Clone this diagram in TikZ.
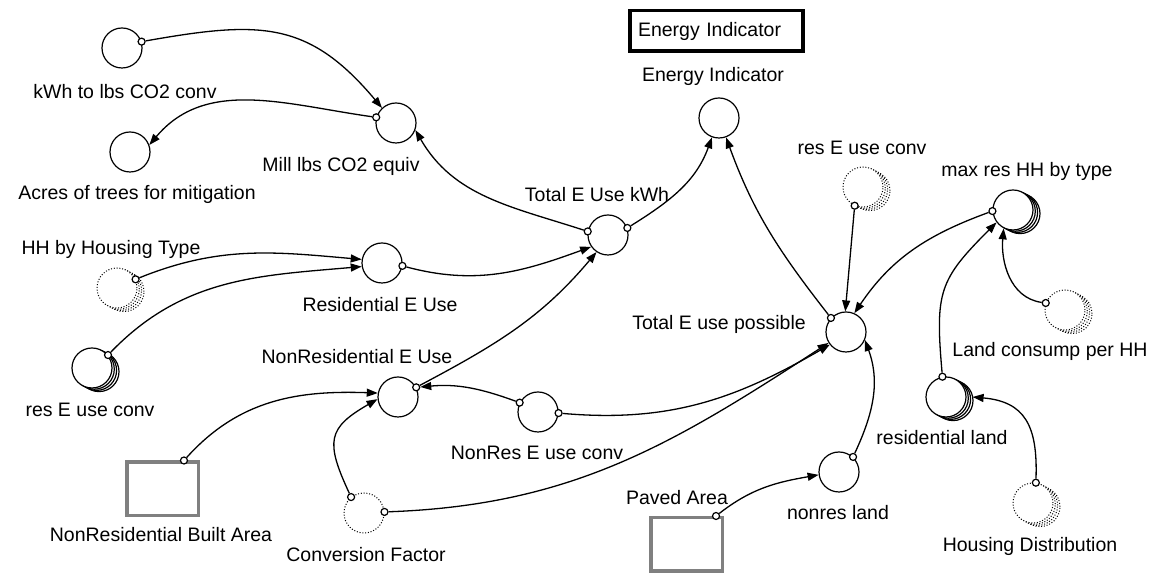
\documentclass[tikz,border=0pt]{standalone}
\usepackage{fontspec}
\setmainfont{Liberation Sans}
\usetikzlibrary{arrows.meta,shadows}

\tikzset{
  conv/.style={circle, draw, fill=white, line width=1.2pt, minimum size=40pt, inner sep=0pt},
  ghost/.style={conv, line width=1pt, dash pattern=on 1pt off 1.8pt},
  arr/.style={
    general shadow={shadow xshift=7pt, shadow yshift=-3.6pt, draw, fill=white, line width=1.2pt},
    general shadow={shadow xshift=4.6pt, shadow yshift=-2.4pt, draw, fill=white, line width=1.2pt},
    general shadow={shadow xshift=2.3pt, shadow yshift=-1.2pt, draw, fill=white, line width=1.2pt}},
  ghostarr/.style={
    general shadow={shadow xshift=7pt, shadow yshift=-3.6pt, draw, dash pattern=on 1pt off 1.8pt, fill=white, line width=1pt},
    general shadow={shadow xshift=4.6pt, shadow yshift=-2.4pt, draw, dash pattern=on 1pt off 1.8pt, fill=white, line width=1pt},
    general shadow={shadow xshift=2.3pt, shadow yshift=-1.2pt, draw, dash pattern=on 1pt off 1.8pt, fill=white, line width=1pt}},
  stock/.style={rectangle, draw=gray, fill=white, line width=3.5pt, minimum width=71.5pt, minimum height=53.5pt},
  tap/.style={circle, draw, fill=white, line width=1.2pt, minimum size=7pt, inner sep=0pt},
  lbl/.style={inner sep=0pt, text height=14pt, text depth=0pt, font=\fontsize{19.5pt}{23pt}\selectfont},
  indbox/.style={draw, line width=3.5pt, text width=157pt, align=left, inner xsep=8pt,
    minimum height=40.5pt, font=\fontsize{19.5pt}{23pt}\selectfont},
  link/.style={line width=1.3pt, -{Triangle[length=11pt,width=8pt]}},
}

\begin{document}
\begin{tikzpicture}[x=1pt,y=1pt]
  \useasboundingbox (0,0) rectangle (1160,575);
  %%%%% CONVERTERS AND STOCKS
  \node[conv] (kwh) at (122,527) {};
  \node[conv] (acres) at (130,423) {};
  \node[conv] (mill) at (396,452) {};
  \node[conv] (einds) at (719,457) {};
  \node[conv] (tekwh) at (608,340) {};
  \node[conv] (rese) at (382,312) {};
  \node[ghost,ghostarr] (hhtype) at (117,287) {};
  \node[conv,arr] (resconvL) at (92,207) {};
  \node[conv] (nonrese) at (398,178) {};
  \node[conv] (nonresconv) at (538,163) {};
  \node[stock] (nrba) at (162.5,86) {};
  \node[ghost] (cf) at (364,62) {};
  \node[conv] (teup) at (846,243) {};
  \node[ghost,ghostarr] (resconvR) at (863,388) {};
  \node[conv,arr] (maxhh) at (1013,365) {};
  \node[ghost,ghostarr] (landc) at (1065,265) {};
  \node[conv,arr] (resland) at (946,178) {};
  \node[ghost,ghostarr] (housd) at (1033,72) {};
  \node[conv] (nonresland) at (839,103) {};
  \node[stock] (paved) at (686.5,30.5) {};
  \node[indbox] (indicator) at (716.5,544) {Energy Indicator};
  %%%%% LABELS
  \node[lbl] (kwhL) at (125,483) {kWh to lbs CO2 conv};
  \node[lbl] (acresL) at (137,382) {Acres of trees for mitigation};
  \node[lbl] (millL) at (341,410) {Mill lbs CO2 equiv};
  \node[lbl] (eindsL) at (713,500) {Energy Indicator};
  \node[lbl] (tekwhL) at (597,380) {Total E Use kWh};
  \node[lbl] (reseL) at (380,270) {Residential E Use};
  \node[lbl] (hhtypeL) at (111,327) {HH by Housing Type};
  \node[lbl] (resconvLL) at (90,165) {res E use conv};
  \node[lbl] (nonreseL) at (357,218) {NonResidential E Use};
  \node[lbl] (nonresconvL) at (537,122) {NonRes E use conv};
  \node[lbl] (nrbaL) at (161,40) {NonResidential Built Area};
  \node[lbl] (cfL) at (366,20) {Conversion Factor};
  \node[lbl] (teupL) at (719,252) {Total E use possible};
  \node[lbl] (resconvRL) at (862,427) {res E use conv};
  \node[lbl] (maxhhL) at (1027,405) {max res HH by type};
  \node[lbl] (landcL) at (1050,225) {Land consump per HH};
  \node[lbl] (reslandL) at (942,137) {residential land};
  \node[lbl] (housdL) at (1030,30) {Housing Distribution};
  \node[lbl] (nonreslandL) at (838,62) {nonres land};
  \node[lbl] (pavedL) at (677,77) {Paved Area};
  %%%%% CONNECTOR TAPS
  \foreach \n/\a in {kwh/18, mill/164, tekwh/170, tekwh/20, teup/137, rese/352,
      hhtype/25, resconvL/39, nonrese/28, nonresconv/153, nonresconv/357, nrba/53,
      cf/129, cf/3, resconvR/246, maxhh/183, landc/160, resland/100, housd/82,
      nonresland/47, paved/44}
    \node[tap] (\n-\a) at (\n.\a) {};
  %%%%% CONNECTORS
  \draw[link] (kwh-18) to[out=10,in=130,looseness=1.2] (mill.133);
  \draw[link] (mill-164) to[out=172,in=50] (acres.20);
  \draw[link] (tekwh-170) to[out=162,in=-60] (mill.-20);
  \draw[link] (tekwh-20) to[out=32,in=250] (einds.250);
  \draw[link] (teup-137) to[out=128,in=-70] (einds.290);
  \draw[link] (rese-352) to[out=-15,in=200] (tekwh.215);
  \draw[link] (hhtype-25) to[out=22,in=175] (rese.170);
  \draw[link] (resconvL-39) to[out=46,in=185] (rese.190);
  \draw[link] (nonrese-28) to[out=28,in=230] (tekwh.236);
  \draw[link] (nonresconv-153) to[out=160,in=5] (nonrese-28);
  \draw[link] (nrba-53) to[out=48,in=178] (nonrese.169);
  \draw[link] (cf-129) to[out=115,in=210,looseness=1.5] (nonrese.186);
  \draw[link] (cf-3) to[out=2,in=213] (teup.212);
  \draw[link] (nonresconv-357) to[out=-5,in=210] (teup.218);
  \draw[link] (resconvR-246) -- (teup.92);
  \draw[link] (maxhh-183) to[out=200,in=56] (teup.66);
  \draw[link] (resland-100) to[out=95,in=225,looseness=1.3] (maxhh.217);
  \draw[link] (landc-160) to[out=172,in=265] (maxhh.243);
  \draw[link] (housd-82) to[out=88,in=-5,looseness=1.3] ([xshift=6pt]resland.0);
  \draw[link] (nonresland-47) to[out=65,in=-70] (teup.337);
  \draw[link] (paved-44) to[out=38,in=190] (nonresland.188);
\end{tikzpicture}
\end{document}
